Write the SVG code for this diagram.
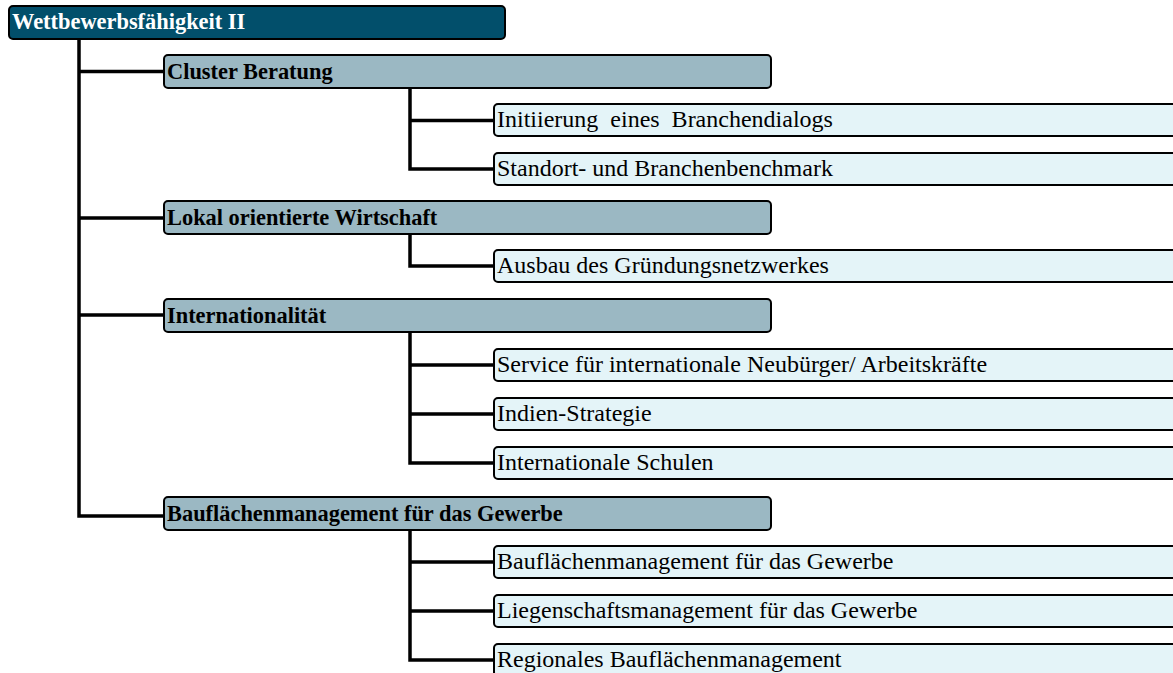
<svg xmlns="http://www.w3.org/2000/svg" width="1173" height="673" viewBox="0 0 1173 673">
<style>
.root{fill:#024f6b;stroke:#000;stroke-width:2}
.l1{fill:#9bb8c3;stroke:#000;stroke-width:2}
.l2{fill:#e4f4f8;stroke:#000;stroke-width:2}
.t0{font-family:"Liberation Serif",serif;font-weight:bold;font-size:22.4px;fill:#fff}
.t1{font-family:"Liberation Serif",serif;font-weight:bold;font-size:22.4px;fill:#000}
.t2{font-family:"Liberation Serif",serif;font-size:24px;fill:#000;white-space:pre}
.c{fill:none;stroke:#000;stroke-width:3.5}
</style>
<rect width="1173" height="673" fill="#fff"/>
<g id="connectors">
<path class="c" d="M79 39V516H164M79 71.5H164M79 218H164M79 315H164"/>
<path class="c" d="M410 88V169H494M410 120.5H494"/>
<path class="c" d="M410 234V266H494"/>
<path class="c" d="M410 332V463H494M410 365H494M410 414H494"/>
<path class="c" d="M410 530V660H494M410 562H494M410 611H494"/>
</g>
<g id="n0"><rect class="root" x="9" y="6" width="496" height="33" rx="4"/><text class="t0" x="12" y="29">Wettbewerbsfähigkeit II</text></g>
<g id="n1"><rect class="l1" x="164" y="55" width="607" height="33" rx="4"/><text class="t1" x="167" y="79">Cluster Beratung</text></g>
<g id="n11"><rect class="l2" x="494" y="104" width="690" height="32" rx="4"/><text class="t2" x="497" y="127">Initiierung  eines  Branchendialogs</text></g>
<g id="n12"><rect class="l2" x="494" y="153" width="690" height="32" rx="4"/><text class="t2" x="497" y="176">Standort- und Branchenbenchmark</text></g>
<g id="n2"><rect class="l1" x="164" y="201" width="607" height="33" rx="4"/><text class="t1" x="167" y="225">Lokal orientierte Wirtschaft</text></g>
<g id="n21"><rect class="l2" x="494" y="250" width="690" height="32" rx="4"/><text class="t2" x="497" y="273">Ausbau des Gründungsnetzwerkes</text></g>
<g id="n3"><rect class="l1" x="164" y="299" width="607" height="33" rx="4"/><text class="t1" x="167" y="323">Internationalität</text></g>
<g id="n31"><rect class="l2" x="494" y="349" width="690" height="32" rx="4"/><text class="t2" x="497" y="372">Service für internationale Neubürger/ Arbeitskräfte</text></g>
<g id="n32"><rect class="l2" x="494" y="398" width="690" height="32" rx="4"/><text class="t2" x="497" y="421">Indien-Strategie</text></g>
<g id="n33"><rect class="l2" x="494" y="447" width="690" height="32" rx="4"/><text class="t2" x="497" y="470">Internationale Schulen</text></g>
<g id="n4"><rect class="l1" x="164" y="497" width="607" height="33" rx="4"/><text class="t1" x="167" y="521">Bauflächenmanagement für das Gewerbe</text></g>
<g id="n41"><rect class="l2" x="494" y="546" width="690" height="32" rx="4"/><text class="t2" x="497" y="569">Bauflächenmanagement für das Gewerbe</text></g>
<g id="n42"><rect class="l2" x="494" y="595" width="690" height="32" rx="4"/><text class="t2" x="497" y="618">Liegenschaftsmanagement für das Gewerbe</text></g>
<g id="n43"><rect class="l2" x="494" y="644" width="690" height="32" rx="4"/><text class="t2" x="497" y="667">Regionales Bauflächenmanagement</text></g>
</svg>
